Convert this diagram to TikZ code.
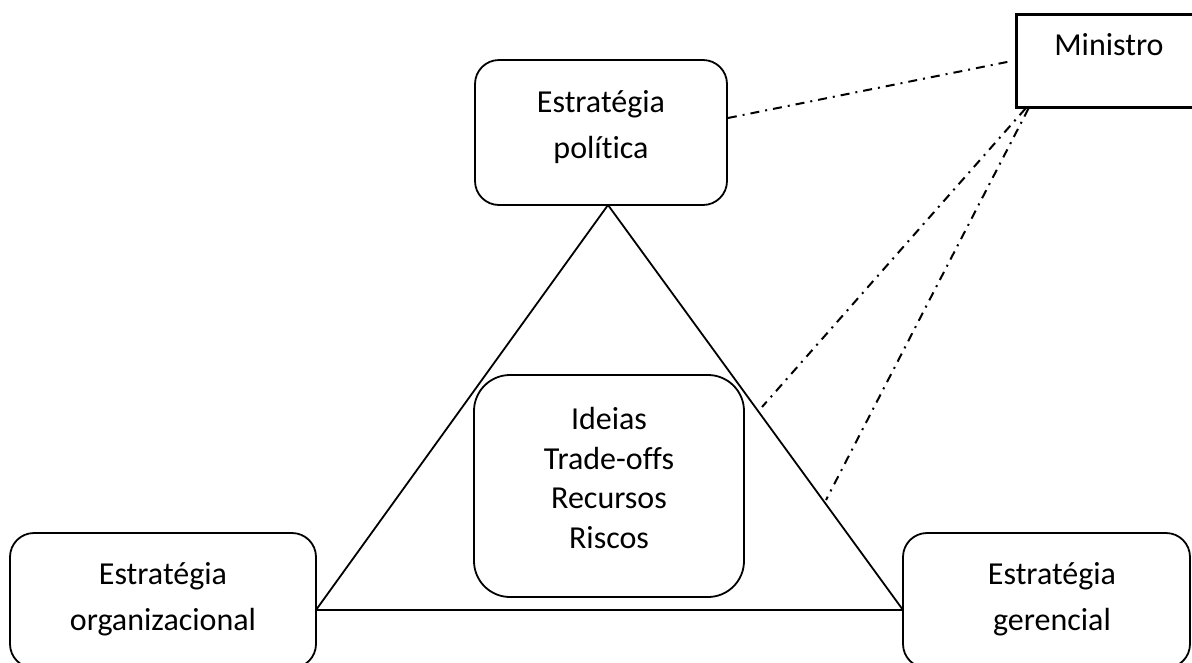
\documentclass[tikz,border=0pt]{standalone}
\usepackage{fontspec}
\setmainfont{Carlito}[Ligatures=NoCommon]
\usetikzlibrary{calc}
\begin{document}
\begin{tikzpicture}[x=1pt,y=-1pt,
  box/.style={draw, line width=1.8pt, rounded corners=24pt, fill=white, inner sep=0pt},
  lbl/.style={align=center, inner sep=0pt, font=\fontsize{32}{46}\selectfont,
              execute at begin node=\strut, execute at end node=\strut},
  side/.style={line width=1.8pt, line join=round},
  link/.style={line width=2pt, dash pattern=on 9pt off 6pt on 2pt off 6pt}]
\fill[white] (0,0) rectangle (1192,662);
\useasboundingbox (0,0) rectangle (1192,662);

% corners of the triangle
\coordinate (apex) at (608,205);
\coordinate (bl) at (316,610);
\coordinate (br) at (903,610);
\draw[side] (apex) -- (bl) -- (br) -- cycle;

% the three strategies
\node[box, minimum width=252pt, minimum height=145pt] (pol) at (601,132.5) {};
\node[lbl] (polt) at (601,131.8) {Estratégia\\política};

\node[box, minimum width=306pt, minimum height=135pt] (org) at (163,600.5) {};
\node[lbl] (orgt) at (163,603.8) {Estratégia\\organizacional};

\node[box, minimum width=287pt, minimum height=135pt] (ger) at (1046.5,600.5) {};
\node[lbl] (gert) at (1052,603.3) {Estratégia\\gerencial};

% centre of the triangle
\node[box, rounded corners=36pt, minimum width=270pt, minimum height=222pt] (mid) at (609,486) {};
\node[lbl, font=\fontsize{32}{39.5}\selectfont] (midt) at (609,483.9)
  {Ideias\\Trade-offs\\Recursos\\Riscos};

% minister
\node[draw, line width=3pt, minimum width=186pt, minimum height=93pt, inner sep=0pt] (min) at (1109,60.5) {};
\node[anchor=base, inner sep=0pt, font=\fontsize{32}{46}\selectfont] (mint) at (1109,55) {Ministro};

% links from the minister
\coordinate (t1) at (762,407);
\coordinate (t2) at (826,500);
\draw[link, shorten >=6pt] ([yshift=14.5pt]pol.east) -- (min.west);
\draw[link] ([xshift=11pt]min.south west) -- (t1);
\draw[link] ([xshift=14pt]min.south west) -- (t2);
\end{tikzpicture}
\end{document}
